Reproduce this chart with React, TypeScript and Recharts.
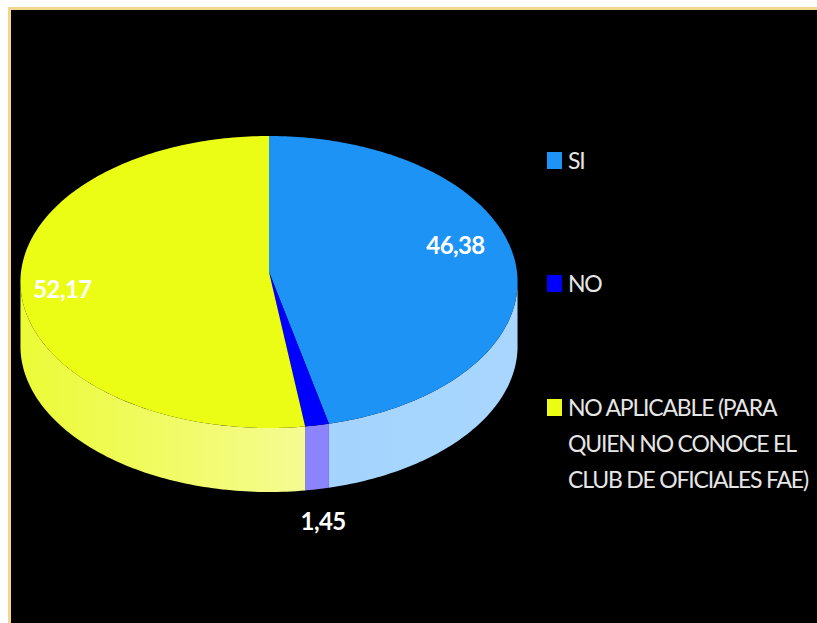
import React from 'react'
import { Legend, Pie, PieChart } from 'recharts'

const categories = ['SI', 'NO', 'NO APLICABLE (PARA QUIEN NO CONOCE EL CLUB DE OFICIALES FAE)']
const shares = [46.38, 1.45, 52.17]
const topColors = ['#1e93f6', '#0000ff', '#ebfd14']
const wallGradients = ['wallSi', 'wallNo', 'wallNa']

const rows = categories.map((name, i) => ({
  name,
  value: shares[i],
  fill: topColors[i],
  wall: wallGradients[i],
}))

// flattened disc: vertical squash, perspective strength, wall height
const SQUASH = 0.586
const PERSPECTIVE = 0.0684
const DEPTH = 64

// where each value label sits relative to its slice's rim point
const LABEL_NUDGE = [
  [-58, -11],
  [6, 95],
  [42, 7],
]

const FONT = 'Lato, "Open Sans", sans-serif'

function project(cx: number, cy: number, r: number, angle: number) {
  const rad = (angle * Math.PI) / 180
  const u = Math.cos(rad)
  const v = -Math.sin(rad)
  const w = 1 - PERSPECTIVE * v
  return { x: cx + (r * u) / w, y: cy + (r * SQUASH * v) / w }
}

function rimPoints(cx: number, cy: number, r: number, from: number, to: number) {
  const steps = Math.max(2, Math.ceil(Math.abs(from - to)))
  const points = []
  for (let i = 0; i <= steps; i++) {
    points.push(project(cx, cy, r, from + ((to - from) * i) / steps))
  }
  return points
}

function toPath(points: { x: number; y: number }[]) {
  return points.map((p, i) => `${i === 0 ? 'M' : 'L'}${p.x.toFixed(2)},${p.y.toFixed(2)}`).join(' ')
}

function DiscSlice(props: any) {
  const { cx, cy, outerRadius, startAngle, endAngle, fill, payload } = props
  const rim = rimPoints(cx, cy, outerRadius, startAngle, endAngle)
  const top = `M${cx},${cy} ${toPath(rim).replace('M', 'L')} Z`

  // only the part of the rim facing the viewer gets a wall
  const hi = Math.min(startAngle, -5)
  const lo = Math.max(endAngle, -175)
  let wall = null
  if (hi > lo) {
    const upper = rimPoints(cx, cy, outerRadius, hi, lo)
    const lower = [...upper].reverse().map((p) => ({ x: p.x, y: p.y + DEPTH }))
    wall = <path d={`${toPath(upper)} ${toPath(lower).replace('M', 'L')} Z`} fill={`url(#${payload.wall})`} />
  }

  return (
    <g>
      {wall}
      <path d={top} fill={fill} />
    </g>
  )
}

function ValueLabel(props: any) {
  const { cx, cy, outerRadius, midAngle, index } = props
  const rim = project(cx, cy, outerRadius, midAngle)
  return (
    <text
      x={rim.x + LABEL_NUDGE[index][0]}
      y={rim.y + LABEL_NUDGE[index][1]}
      fill="#ffffff"
      fontFamily={FONT}
      fontSize={24}
      fontWeight={700}
      letterSpacing={-0.6}
      textAnchor="middle"
      dominantBaseline="central"
    >
      {shares[index].toFixed(2).replace('.', ',')}
    </text>
  )
}

function LegendList({ payload }: any) {
  const gaps = [0, 87, 88]
  return (
    <div style={{ fontFamily: FONT, fontSize: 23, letterSpacing: -1.2, lineHeight: '36px', color: '#e6e6e6' }}>
      {(payload ?? []).map((entry: any, i: number) => (
        <div key={entry.value} style={{ position: 'relative', paddingLeft: 21, marginTop: gaps[i] }}>
          <span
            style={{
              position: 'absolute',
              left: 0,
              top: 10,
              width: 15,
              height: 17,
              background: entry.color,
            }}
          />
          {entry.value}
        </div>
      ))}
    </div>
  )
}

export default function App() {
  return (
    <div style={{ position: 'fixed', left: 0, top: 0, width: 817, height: 623, overflow: 'hidden', background: '#fff' }}>
      <div
        style={{
          position: 'absolute',
          left: 332,
          top: -24,
          fontFamily: FONT,
          fontSize: 24,
          fontWeight: 700,
          letterSpacing: 1,
          color: '#555',
        }}
      >
        Gráfico No. 6
      </div>
      <div
        style={{
          position: 'absolute',
          left: 8,
          top: 7,
          width: 809,
          height: 616,
          boxSizing: 'border-box',
          background: '#000',
          borderLeft: '3px solid #f2d58f',
          borderTop: '3px solid #f2d58f',
        }}
      />
      <div style={{ position: 'absolute', left: 0, top: 0 }}>
        <PieChart width={817} height={623} margin={{ top: 0, right: 0, bottom: 0, left: 0 }}>
          <defs>
            <linearGradient id="wallNa" gradientUnits="userSpaceOnUse" x1="21" y1="0" x2="305" y2="0">
              <stop offset="0%" stopColor="#ebfb36" />
              <stop offset="100%" stopColor="#f6fb92" />
            </linearGradient>
            <linearGradient id="wallNo" gradientUnits="userSpaceOnUse" x1="305" y1="0" x2="329" y2="0">
              <stop offset="0%" stopColor="#8c84ff" />
              <stop offset="100%" stopColor="#8c84ff" />
            </linearGradient>
            <linearGradient id="wallSi" gradientUnits="userSpaceOnUse" x1="329" y1="0" x2="518" y2="0">
              <stop offset="0%" stopColor="#a4d4fd" />
              <stop offset="100%" stopColor="#a8d6ff" />
            </linearGradient>
          </defs>
          <Pie
            data={rows}
            dataKey="value"
            nameKey="name"
            cx={269}
            cy={272}
            innerRadius={0}
            outerRadius={248}
            startAngle={90}
            endAngle={-270}
            paddingAngle={0}
            stroke="none"
            isAnimationActive={false}
            shape={DiscSlice}
            label={ValueLabel}
            labelLine={false}
          />
          <Legend
            layout="vertical"
            itemSorter={null}
            content={<LegendList />}
            wrapperStyle={{ position: 'absolute', left: 547, top: 142, bottom: 'auto', width: 266 }}
          />
        </PieChart>
      </div>
    </div>
  )
}
